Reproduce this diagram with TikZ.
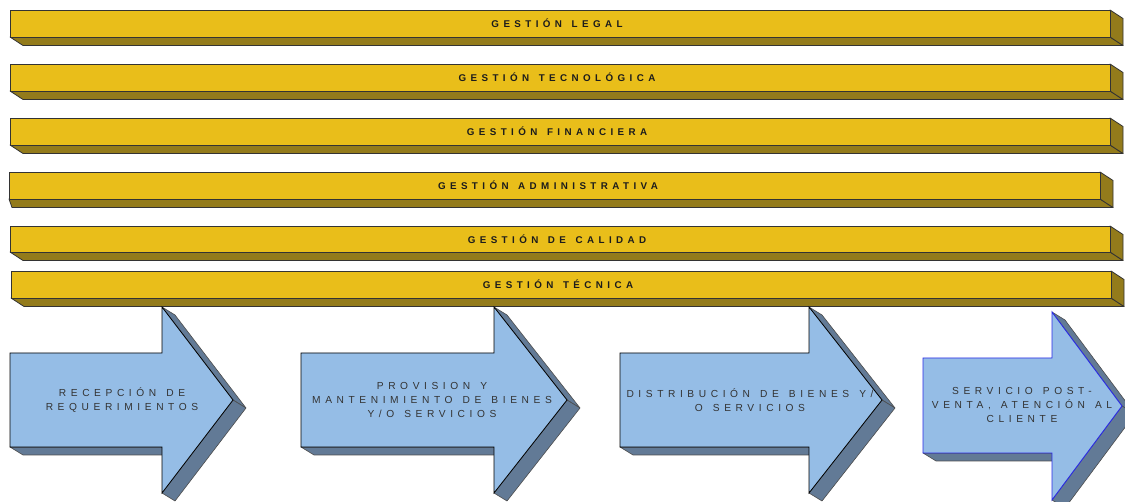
\documentclass[tikz,border=0pt]{standalone}
\usepackage{fontspec}
\setmainfont{Liberation Sans}
\newfontfamily\barfont[LetterSpace=45, WordSpace=1.8]{Liberation Sans}
\newfontfamily\arrowfont[LetterSpace=45, WordSpace=1.35]{Liberation Sans}

\definecolor{barfront}{HTML}{E9BE1A}
\definecolor{bardepth}{HTML}{937B1B}
\definecolor{arrowfront}{HTML}{95BDE6}
\definecolor{arrowdepth}{HTML}{627A96}
\definecolor{edgeblue}{HTML}{2A2AE6}
\definecolor{inkdark}{HTML}{1C1C1C}
\definecolor{inkgray}{HTML}{333333}

\tikzset{
  x=1pt, y=-1pt,
  barface/.style={fill=barfront, draw=black!80, line width=0.9pt},
  barside/.style={fill=bardepth, draw=black!80, line width=0.8pt, line join=round},
  arrowface/.style={fill=arrowfront, draw=black, line width=0.8pt, line join=miter},
  arrowfaceblue/.style={fill=arrowfront, draw=edgeblue, line width=0.9pt, line join=miter},
  arrowside/.style={fill=arrowdepth, draw=black!70, line width=0.6pt, line join=round},
  bartext/.style={font=\barfont\bfseries\fontsize{9.8}{11}\selectfont, text=inkdark,
    inner sep=0pt, xshift=-3pt},
  arrowtext/.style={font=\arrowfont\fontsize{10.2}{14}\selectfont, text=inkgray,
    align=center, inner sep=0pt},
}

% gold bar with a bottom and a right face: x1, y1, x2, y2, left offset of the bottom face
\newcommand\goldbar[5]{%
  \draw[barside] (#1,#4) -- (#3,#4) -- (#3+13,#4+8.5) -- (#1+#5,#4+8.5) -- cycle;
  \draw[barside] (#3,#2) -- (#3+13,#2+8.5) -- (#3+13,#4+8.5) -- (#3,#4) -- cycle;
  \draw[barface] (#1,#2) rectangle (#3,#4);
}

% extruded block arrow: face style, left x, shaft top, shaft bottom,
% head base x, head top, head bottom, tip x, tip y
\newcommand\blockarrow[9]{%
  \draw[arrowside] (#2,#4) -- (#5,#4) -- (#5+13,#4+8) -- (#2+13,#4+8) -- cycle;
  \draw[arrowside] (#5,#6) -- (#8,#9) -- (#8+13,#9+8) -- (#5+13,#6+8) -- cycle;
  \draw[arrowside] (#5,#7) -- (#8,#9) -- (#8+13,#9+8) -- (#5+13,#7+8) -- cycle;
  \draw[#1] (#2,#3) -- (#5,#3) -- (#5,#6) -- (#8,#9) -- (#5,#7) -- (#5,#4) -- (#2,#4) -- cycle;
}

\begin{document}
\begin{tikzpicture}
\useasboundingbox (0,0) rectangle (1125,502);
\begin{scope}
\clip (0,0) rectangle (1125,502);

% support areas
\goldbar{10}{10}{1110}{37}{13}
\goldbar{10}{64}{1110}{91}{13}
\goldbar{10}{118}{1110}{145}{13}
\goldbar{9}{172}{1100}{199}{3}
\goldbar{10}{226}{1110}{252}{13}
\goldbar{11}{271}{1111}{298}{13}

\node[bartext] (t1) at (560,23.5) {GESTIÓN LEGAL};
\node[bartext] (t2) at (560,77.5) {GESTIÓN TECNOLÓGICA};
\node[bartext] (t3) at (560,131.5) {GESTIÓN FINANCIERA};
\node[bartext] (t4) at (551,185.5) {GESTIÓN ADMINISTRATIVA};
\node[bartext] (t5) at (560,239) {GESTIÓN DE CALIDAD};
\node[bartext] (t6) at (561,284.5) {GESTIÓN TÉCNICA};

% core process chain
\blockarrow{arrowface}{10}{353}{447}{162}{307}{493}{233}{400}
\blockarrow{arrowface}{301}{353}{447}{494}{307}{493}{567}{400}
\blockarrow{arrowface}{620}{353}{447}{809}{307}{493}{882}{400}
\blockarrow{arrowfaceblue}{923}{358}{453}{1052}{312}{500}{1122}{406}

\node[arrowtext] (a1) at (122,400) {RECEPCIÓN DE\\REQUERIMIENTOS};
\node[arrowtext] (a2) at (432,400) {PROVISION Y\\MANTENIMIENTO DE BIENES\\Y/O SERVICIOS};
\node[arrowtext] (a3) at (750,400) {DISTRIBUCIÓN DE BIENES Y/\\O SERVICIOS};
\node[arrowtext] (a4) at (1022,405) {SERVICIO POST-\\VENTA, ATENCIÓN AL\\CLIENTE};
\end{scope}
\end{tikzpicture}
\end{document}
